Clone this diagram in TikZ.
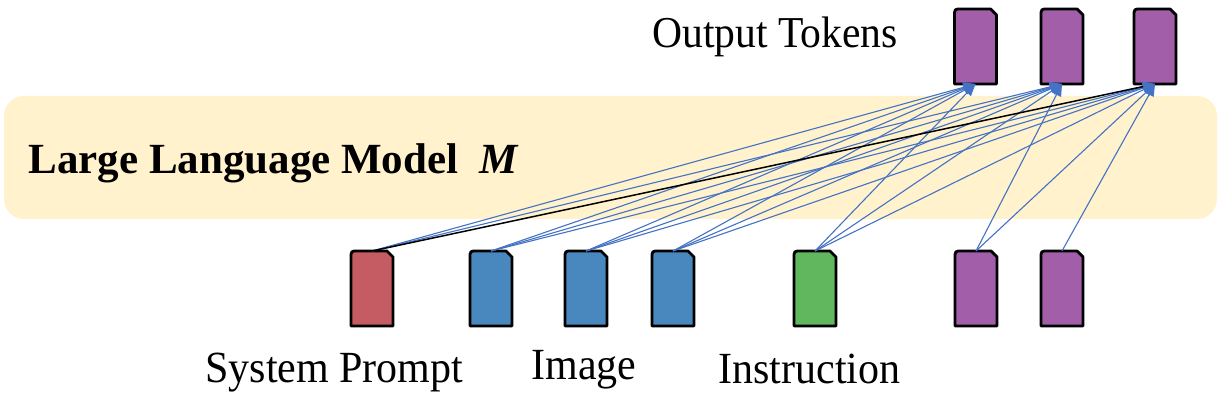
\documentclass[tikz,border=0pt]{standalone}
\usepackage{fontspec}
\setmainfont{Liberation Serif}
\usetikzlibrary{arrows.meta}
\definecolor{bandfill}{RGB}{255,242,204}
\definecolor{tokred}{RGB}{198,92,99}
\definecolor{tokblue}{RGB}{73,136,191}
\definecolor{tokgreen}{RGB}{97,183,94}
\definecolor{tokpurple}{RGB}{162,94,169}
\definecolor{linkblue}{RGB}{68,114,196}
\newcommand\drawtoken[2]{%
  \filldraw[tokline, fill=#2] (#1.south west) -- ([yshift=-3.5pt]#1.north west)
    .. controls (#1.north west) .. ([xshift=3.5pt]#1.north west)
    -- ([xshift=-3pt]#1.north east) -- ([yshift=-3pt]#1.north east)
    -- (#1.south east) -- cycle;}
\newcommand\tallertext[1]{\scalebox{1}[1.06]{#1}}
\begin{document}
\begin{tikzpicture}[x=0.5pt,y=-0.5pt,
  tokbox/.style={minimum width=21pt,minimum height=37.5pt,inner sep=0pt,outer sep=0pt},
  tokline/.style={draw=black,line width=1.4pt,line join=round},
  link/.style={draw=linkblue,line width=0.55pt,-{Triangle[length=6pt,width=5pt]}},
  blacklink/.style={draw=black,line width=0.75pt,-{Triangle[length=6pt,width=5pt,color=linkblue]}},
  lbl/.style={font=\fontsize{21pt}{24pt}\selectfont,inner sep=0pt,anchor=base west},
  band/.style={fill=bandfill,rounded corners=10pt,minimum width=606.5pt,minimum height=61.5pt,inner sep=0pt}]
\useasboundingbox (0,0) rectangle (1218,416);

% model band
\node[band] (llm) at (610.5,157.5) {};
\node[lbl, font=\fontsize{21.5pt}{24pt}\selectfont\bfseries] (llmtext) at (28,174)
  {Large Language Model\hspace{0.5em}\textit{M}};

% input tokens
\node[tokbox] (r)  at (372,288.5) {};
\node[tokbox] (b1) at (491,288.5) {};
\node[tokbox] (b2) at (586,288.5) {};
\node[tokbox] (b3) at (673,288.5) {};
\node[tokbox] (g)  at (815,288.5) {};
\node[tokbox] (p1) at (976,288.5) {};
\node[tokbox] (p2) at (1062,288.5) {};
% output tokens
\node[tokbox] (o1) at (975.5,46.5) {};
\node[tokbox] (o2) at (1062,46.5) {};
\node[tokbox] (o3) at (1155,46.5) {};

\drawtoken{r}{tokred}
\drawtoken{b1}{tokblue}
\drawtoken{b2}{tokblue}
\drawtoken{b3}{tokblue}
\drawtoken{g}{tokgreen}
\drawtoken{p1}{tokpurple}
\drawtoken{p2}{tokpurple}
\drawtoken{o1}{tokpurple}
\drawtoken{o2}{tokpurple}
\drawtoken{o3}{tokpurple}

% connections
\foreach \s/\t in {r/o1,r/o2,b1/o1,b1/o2,b1/o3,b2/o1,b2/o2,b2/o3,b3/o1,b3/o2,b3/o3,g/o1,g/o2,g/o3,p1/o2,p1/o3,p2/o3}
  \draw[link] (\s.north) -- (\t.south);
\draw[blacklink] (r.north) -- (o3.south);

% labels
\node[lbl, font=\fontsize{20.8pt}{24pt}\selectfont] (outlbl) at (652,48) {\tallertext{Output Tokens}};
\node[lbl] (syslbl) at (205,382) {\tallertext{System Prompt}};
\node[lbl] (imglbl) at (531,379) {\tallertext{Image}};
\node[lbl] (inslbl) at (718,383) {\tallertext{Instruction}};
\end{tikzpicture}
\end{document}
